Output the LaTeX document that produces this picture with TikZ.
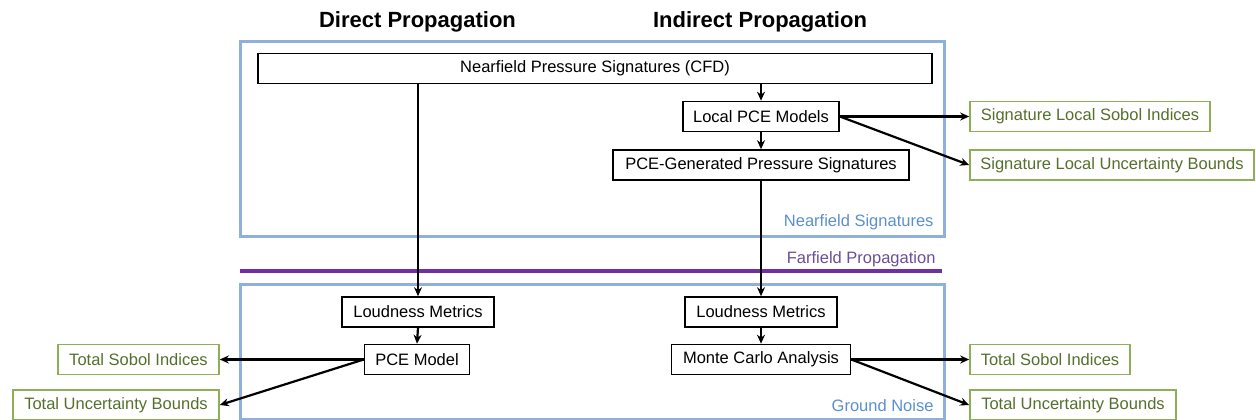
\documentclass[tikz,border=0pt]{standalone}
\usepackage{fontspec}
\setmainfont{Liberation Sans}
\usetikzlibrary{arrows.meta}
\definecolor{frameblue}{HTML}{8FB0DA}
\definecolor{labelblue}{HTML}{5A8FD0}
\definecolor{farpurple}{HTML}{7030A0}
\definecolor{farpurpletext}{HTML}{6A4E9A}
\definecolor{outgreen}{HTML}{8FAE58}
\definecolor{outgreentext}{HTML}{55702C}
\tikzset{
  txt/.style={font=\fontsize{16.5}{19}\selectfont},
  proc/.style={txt, draw=black, line width=1.6pt, fill=white, inner sep=0pt, minimum height=30pt},
  result/.style={txt, draw=outgreen, text=outgreentext, line width=1.6pt, fill=white, inner sep=0pt, minimum height=30pt},
  head/.style={font=\fontsize{22}{25}\selectfont\bfseries},
  frame/.style={draw=frameblue, line width=3pt},
  flow/.style={draw=black, line width=2.2pt, -{Stealth[length=9pt,width=8pt]}},
}
\begin{document}
\begin{tikzpicture}[x=1pt,y=-1pt]
\useasboundingbox (0,0) rectangle (1256,420);

% column headings
\node[head] (hdirect) at (417.5,22) {Direct Propagation};
\node[head] (hindirect) at (760,22) {Indirect Propagation};

% region frames and separating line
\draw[frame] (240,42) rectangle (944,236);
\draw[frame] (240,284) rectangle (944,419);
\draw[draw=farpurple, line width=3.5pt] (240,271) -- (942,271);
\node[txt, text=labelblue, anchor=east] (lnear) at (937,222) {Nearfield Signatures};
\node[txt, text=farpurpletext, anchor=east] (lfar) at (939,259) {Farfield Propagation};
\node[txt, text=labelblue, anchor=east] (lground) at (937,406) {Ground Noise};

% nearfield stage
\node[proc, minimum width=674pt] (nps) at (595,68.5) {Nearfield Pressure Signatures (CFD)};
\node[proc, minimum width=156pt] (lpce) at (761,116.5) {Local PCE Models};
\node[proc, minimum width=296pt] (pgen) at (761,165) {PCE-Generated Pressure Signatures};
\node[result, minimum width=240pt] (slsi) at (1090,116.5) {Signature Local Sobol Indices};
\node[result, minimum width=284pt] (slub) at (1112,165) {Signature Local Uncertainty Bounds};

% ground noise stage
\node[proc, minimum width=152pt] (lmL) at (418,312) {Loudness Metrics};
\node[proc, minimum width=105pt] (pcem) at (417,359.5) {PCE Model};
\node[proc, minimum width=152pt] (lmR) at (761,312) {Loudness Metrics};
\node[proc, minimum width=179pt] (mc) at (761,359.5) {Monte Carlo Analysis};
\node[result, minimum width=161pt] (tsL) at (138.5,359.5) {Total Sobol Indices};
\node[result, minimum width=206pt] (tuL) at (116,405) {Total Uncertainty Bounds};
\node[result, minimum width=160pt] (tsR) at (1050,359.5) {Total Sobol Indices};
\node[result, minimum width=206pt] (tuR) at (1073,405) {Total Uncertainty Bounds};

% connectors
\draw[flow] (lpce.north |- nps.south) -- (lpce.north);
\draw[flow] (lpce.south) -- (pgen.north);
\draw[flow] (lpce.east) -- (slsi.west);
\draw[flow] (lpce.east) -- (slub.west);
\draw[flow] (lmL.north |- nps.south) -- (lmL.north);
\draw[flow] (pgen.south) -- (lmR.north);
\draw[flow] (lmL.south) -- (pcem.north);
\draw[flow] (lmR.south) -- (mc.north);
\draw[flow] (pcem.west) -- (tsL.east);
\draw[flow] (pcem.west) -- (tuL.east);
\draw[flow] (mc.east) -- (tsR.west);
\draw[flow] (mc.east) -- (tuR.west);
\end{tikzpicture}
\end{document}
